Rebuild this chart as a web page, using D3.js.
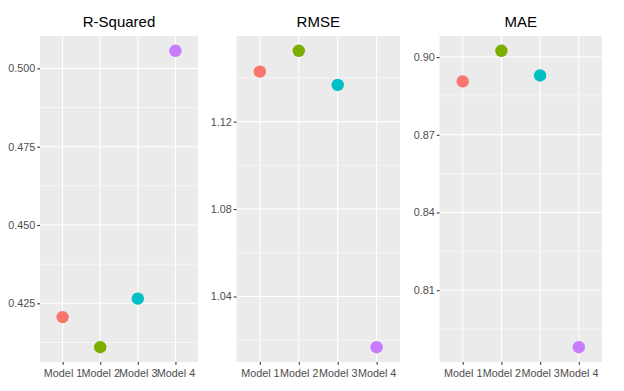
<!DOCTYPE html>
<html>
<head>
<meta charset="utf-8">
<script src="https://cdn.jsdelivr.net/npm/d3@7"></script>
<style>
  body { margin: 0; background: #fff; }
  svg { display: block; font-family: "Liberation Sans", Arial, sans-serif; }
</style>
</head>
<body>
<div id="chart"></div>
<script>
// data
const models = ['Model 1', 'Model 2', 'Model 3', 'Model 4'];
const rsquared = [0.4206, 0.4110, 0.4265, 0.5056];
const rmse = [1.1429, 1.1524, 1.1368, 1.0168];
const mae = [0.8906, 0.9024, 0.8929, 0.7880];
const colors = ['#F8766D', '#7CAE00', '#00BFC4', '#C77CFF'];

const rsqTicks = [0.425, 0.450, 0.475, 0.500];
const rmseTicks = [1.04, 1.08, 1.12];
const maeTicks = [0.81, 0.84, 0.87, 0.90];

const width = 624, height = 391;
const panelTop = 36, panelBottom = 362;

const panels = [
  { title: 'R-Squared', values: rsquared, ticks: rsqTicks, fmt: d3.format('.3f'), x0: 40, x1: 198 },
  { title: 'RMSE', values: rmse, ticks: rmseTicks, fmt: d3.format('.2f'), x0: 236.5, x1: 400 },
  { title: 'MAE', values: mae, ticks: maeTicks, fmt: d3.format('.2f'), x0: 439.5, x1: 602 }
];

const svg = d3.select('#chart').append('svg')
    .attr('width', width)
    .attr('height', height);

panels.forEach(p => {
  // ggplot style expansion: 5% continuous, 0.6 discrete
  const [lo, hi] = d3.extent(p.values);
  const pad = (hi - lo) * 0.05;
  const y = d3.scaleLinear().domain([lo - pad, hi + pad]).range([panelBottom, panelTop]);
  const x = d3.scalePoint().domain(models).range([p.x0, p.x1]).padding(0.6);

  const g = svg.append('g');

  g.append('rect')
      .attr('x', p.x0)
      .attr('y', panelTop)
      .attr('width', p.x1 - p.x0)
      .attr('height', panelBottom - panelTop)
      .attr('fill', '#EBEBEB');

  // minor grid halfway between breaks
  const step = p.ticks[1] - p.ticks[0];
  const minor = [p.ticks[0] - step / 2].concat(p.ticks.map(t => t + step / 2))
      .filter(v => v > y.domain()[0] && v < y.domain()[1]);
  g.selectAll('line.minor').data(minor).join('line')
      .attr('class', 'minor')
      .attr('x1', p.x0).attr('x2', p.x1)
      .attr('y1', d => y(d)).attr('y2', d => y(d))
      .attr('stroke', '#fff').attr('stroke-width', 0.55);

  g.selectAll('line.hmajor').data(p.ticks).join('line')
      .attr('class', 'hmajor')
      .attr('x1', p.x0).attr('x2', p.x1)
      .attr('y1', d => y(d)).attr('y2', d => y(d))
      .attr('stroke', '#fff').attr('stroke-width', 1.1);

  g.selectAll('line.vmajor').data(models).join('line')
      .attr('class', 'vmajor')
      .attr('x1', d => x(d)).attr('x2', d => x(d))
      .attr('y1', panelTop).attr('y2', panelBottom)
      .attr('stroke', '#fff').attr('stroke-width', 1.1);

  // axes
  const yAxis = g.append('g')
      .attr('transform', `translate(${p.x0},0)`)
      .call(d3.axisLeft(y).tickValues(p.ticks).tickFormat(p.fmt).tickSize(2.75).tickPadding(2));
  const xAxis = g.append('g')
      .attr('transform', `translate(0,${panelBottom})`)
      .call(d3.axisBottom(x).tickSize(2.75).tickPadding(4.5));
  [yAxis, xAxis].forEach(a => {
    a.select('.domain').remove();
    a.selectAll('line').attr('stroke', '#333').attr('stroke-width', 1.1);
    a.selectAll('text').attr('fill', '#4D4D4D').style('font-size', '10.8px');
  });

  // points
  g.selectAll('circle').data(p.values).join('circle')
      .attr('cx', (d, i) => x(models[i]))
      .attr('cy', d => y(d))
      .attr('r', 6.2)
      .attr('fill', (d, i) => colors[i]);

  g.append('text')
      .attr('x', (p.x0 + p.x1) / 2)
      .attr('y', 27)
      .attr('text-anchor', 'middle')
      .style('font-size', '15px')
      .attr('fill', '#000')
      .text(p.title);
});
</script>
</body>
</html>
